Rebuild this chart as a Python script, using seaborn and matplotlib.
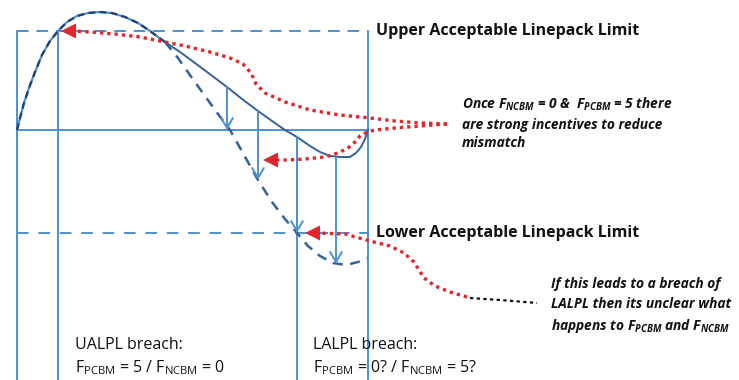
import numpy as np
import pandas as pd
import seaborn as sns
import matplotlib.pyplot as plt

# Sketch coordinates (pixel space, y grows downwards)
rise_x = [17, 20, 24, 29, 35, 42, 50, 58, 67, 77, 88, 100, 112, 125, 138, 150, 158, 165]
rise_y = [130, 118, 103, 88, 72, 55, 41, 31, 22, 16, 13, 12, 13, 17, 23, 31, 37, 42]

actual_x = [165, 180, 195, 211, 227, 242, 258, 272, 285, 297, 310, 320, 330, 340, 350, 356, 361, 365, 368]
actual_y = [42, 52, 63, 75, 87, 99, 111, 121, 130, 137, 146, 152, 156, 157, 157, 153, 147, 139, 130]

worst_x = [165, 178, 192, 205, 218, 230, 244, 258, 272, 285, 297, 308, 320, 333, 346, 358, 367]
worst_y = [42, 58, 78, 96, 114, 130, 155, 180, 202, 219, 233, 246, 256, 263, 265, 262, 258]

drop_x = [227, 258, 297, 336]
drop_from = [87, 111, 137, 157]
drop_to = [130, 180, 233, 264]

red1_x = [447, 420, 395, 370, 340, 310, 285, 265, 256, 251, 243, 230, 210, 185, 165, 140, 115, 90, 74]
red1_y = [124, 123, 121, 118, 115, 110, 102, 93, 84, 73, 64, 58, 52, 46, 42, 37, 34, 32, 31]
red2_x = [447, 420, 395, 375, 367, 360, 355, 348, 338, 325, 305, 288, 276]
red2_y = [124, 126, 128, 130, 132, 136, 142, 148, 153, 157, 159, 160, 160]
red3_x = [467, 450, 435, 424, 419, 414, 404, 390, 370, 345, 318]
red3_y = [297, 292, 286, 278, 270, 262, 253, 246, 241, 234, 233]
black_x = [470, 500, 537]
black_y = [298, 300, 303]

sns.set_theme(style='white')
plt.rcParams['font.family'] = ['Open Sans', 'DejaVu Sans']
plt.rcParams['mathtext.fontset'] = 'custom'
plt.rcParams['mathtext.rm'] = 'Open Sans'
plt.rcParams['mathtext.it'] = 'Open Sans:italic:bold'

blue = '#4f8fd0'
curve = '#34609e'
red = '#e3262c'
ink = '#111111'

fig = plt.figure(figsize=(7.39, 3.80), dpi=100)
ax = fig.add_axes([0, 0, 1, 1])
ax.set_xlim(0, 739)
ax.set_ylim(380, 0)
ax.axis('off')

# frame lines
ax.plot([17, 368], [31, 31], color=blue, lw=1.4, ls=(0, (6, 4)))
ax.plot([17, 368], [233, 233], color=blue, lw=1.4, ls=(0, (6, 5)))
ax.plot([17, 368], [130, 130], color=blue, lw=1.4)
for xv, y0 in [(17, 31), (58, 31), (297, 137), (368, 31)]:
    ax.plot([xv, xv], [y0, 380], color=blue, lw=1.4)

# curves
rise = pd.DataFrame({'x': rise_x, 'y': rise_y})
sns.lineplot(data=rise, x='x', y='y', sort=False, ax=ax, color=blue, lw=1.6)
sns.lineplot(data=rise, x='x', y='y', sort=False, ax=ax, color='#1f3f70', lw=1.6, ls=(0, (3, 2)))
sns.lineplot(x=actual_x, y=actual_y, sort=False, ax=ax, color=curve, lw=1.4)
sns.lineplot(x=worst_x, y=worst_y, sort=False, ax=ax, color=curve, lw=1.8, ls=(0, (4, 3)))

for xv, a, b in zip(drop_x, drop_from, drop_to):
    ax.annotate('', xy=(xv, b), xytext=(xv, a),
                arrowprops=dict(arrowstyle='->,head_length=0.6,head_width=0.35', color=blue, lw=1.4,
                                shrinkA=0, shrinkB=0))

# red dotted callouts
for rx, ry in [(red1_x, red1_y), (red2_x, red2_y), (red3_x, red3_y)]:
    ax.plot(rx, ry, color=red, lw=2.4, ls=(0, (1, 1.2)))
    ax.annotate('', xy=(rx[-1] - 13, ry[-1]), xytext=(rx[-1] + 2, ry[-1]),
                arrowprops=dict(arrowstyle='-|>,head_length=0.9,head_width=0.45', color=red, lw=0,
                                shrinkA=0, shrinkB=0))
ax.plot(black_x, black_y, color=ink, lw=1.6, ls=(0, (1.5, 1.5)))

# labels
ax.text(376, 31, 'Upper Acceptable Linepack Limit', fontsize=11.5, fontweight='bold', va='center', color=ink)
ax.text(376, 233, 'Lower Acceptable Linepack Limit', fontsize=11.5, fontweight='bold', va='center', color=ink)

ax.text(462, 123, 'Once F$_{\\it NCBM}$ = 0 &  F$_{\\it PCBM}$ = 5 there\nare strong incentives to reduce\nmismatch',
        fontsize=9.9, fontstyle='italic', fontweight='bold', va='center', linespacing=1.4, color=ink)
ax.text(551, 306, 'If this leads to a breach of\nLALPL then its unclear what\nhappens to F$_{\\it PCBM}$ and F$_{\\it NCBM}$',
        fontsize=9.9, fontstyle='italic', fontweight='bold', va='center', linespacing=1.5, color=ink)

ax.text(75, 345, 'UALPL breach:', fontsize=11.5, va='center', color=ink)
ax.text(75, 368, 'F$_{\\rm PCBM}$ = 5 / F$_{\\rm NCBM}$ = 0', fontsize=11.5, va='center', color=ink)
ax.text(313, 345, 'LALPL breach:', fontsize=11.5, va='center', color=ink)
ax.text(313, 368, 'F$_{\\rm PCBM}$ = 0? / F$_{\\rm NCBM}$ = 5?', fontsize=11.5, va='center', color=ink)

fig.savefig('out.png', dpi=100)
